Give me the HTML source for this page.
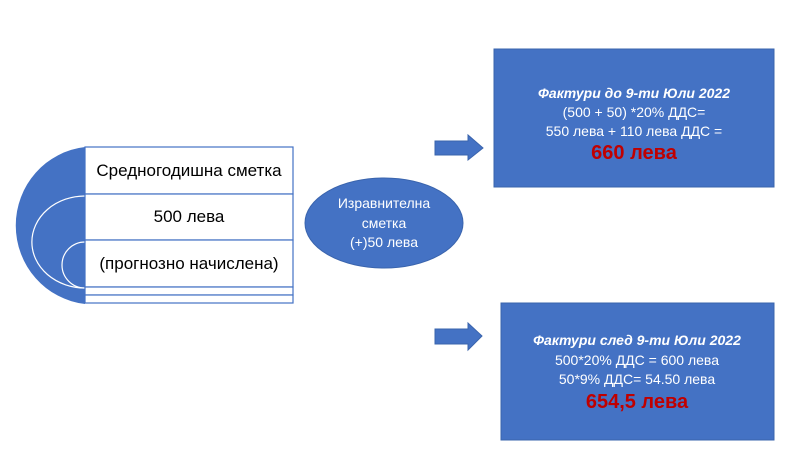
<!DOCTYPE html>
<html><head><meta charset="utf-8"><style>
body{margin:0;background:#fff}
svg{display:block}
text{font-family:"Liberation Sans",sans-serif}
</style></head><body>
<svg width="810" height="470" viewBox="0 0 810 470" xmlns="http://www.w3.org/2000/svg">
<path d="M85 147 A78 79 0 0 0 85 304 Z" fill="#4472c4"/>
<path d="M85 196 A52 45 0 0 0 85 288" fill="none" stroke="#fff" stroke-width="1.2"/>
<path d="M85 242 A23 23 0 0 0 85 288" fill="none" stroke="#fff" stroke-width="1.2"/>
<g fill="#fff" stroke="#4472c4" stroke-width="1.2">
<rect x="85" y="147" width="208" height="47"/>
<rect x="85" y="194" width="208" height="46"/>
<rect x="85" y="240" width="208" height="47"/>
<rect x="85" y="287" width="208" height="8"/>
<rect x="85" y="295" width="208" height="8"/>
</g>
<g font-size="17" fill="#000" text-anchor="middle">
<text x="189" y="176">Средногодишна сметка</text>
<text x="189" y="222">500 лева</text>
<text x="189" y="269">(прогнозно начислена)</text>
</g>
<ellipse cx="384" cy="223" rx="79" ry="45" fill="#4472c4" stroke="#3a64ad" stroke-width="1"/>
<g font-size="14" fill="#fff" text-anchor="middle">
<text x="384" y="208">Изравнителна</text>
<text x="384" y="228">сметка</text>
<text x="384" y="247">(+)50 лева</text>
</g>
<path d="M435 141 H468 V135 L483 148 L468 160 V155 H435 Z" fill="#4472c4" stroke="#3a64ad"/>
<path d="M435 329 H468 V323 L482 336 L468 350 V344 H435 Z" fill="#4472c4" stroke="#3a64ad"/>
<rect x="494" y="49" width="280" height="138" fill="#4472c4" stroke="#3a64ad"/>
<rect x="501" y="303" width="273" height="137" fill="#4472c4" stroke="#3a64ad"/>
<g text-anchor="middle" fill="#fff" font-size="14">
<text x="634" y="98" font-weight="bold" font-style="italic">Фактури до 9-ти Юли 2022</text>
<text x="634" y="117">(500 + 50) *20% ДДС=</text>
<text x="634" y="136">550 лева + 110 лева ДДС =</text>
<text x="634" y="159" font-size="20" font-weight="bold" fill="#c00000">660 лева</text>
<text x="637" y="345" font-weight="bold" font-style="italic">Фактури след 9-ти Юли 2022</text>
<text x="637" y="365">500*20% ДДС = 600 лева</text>
<text x="637" y="384">50*9% ДДС= 54.50 лева</text>
<text x="637" y="408" font-size="20" font-weight="bold" fill="#c00000">654,5 лева</text>
</g>
</svg>
</body></html>
